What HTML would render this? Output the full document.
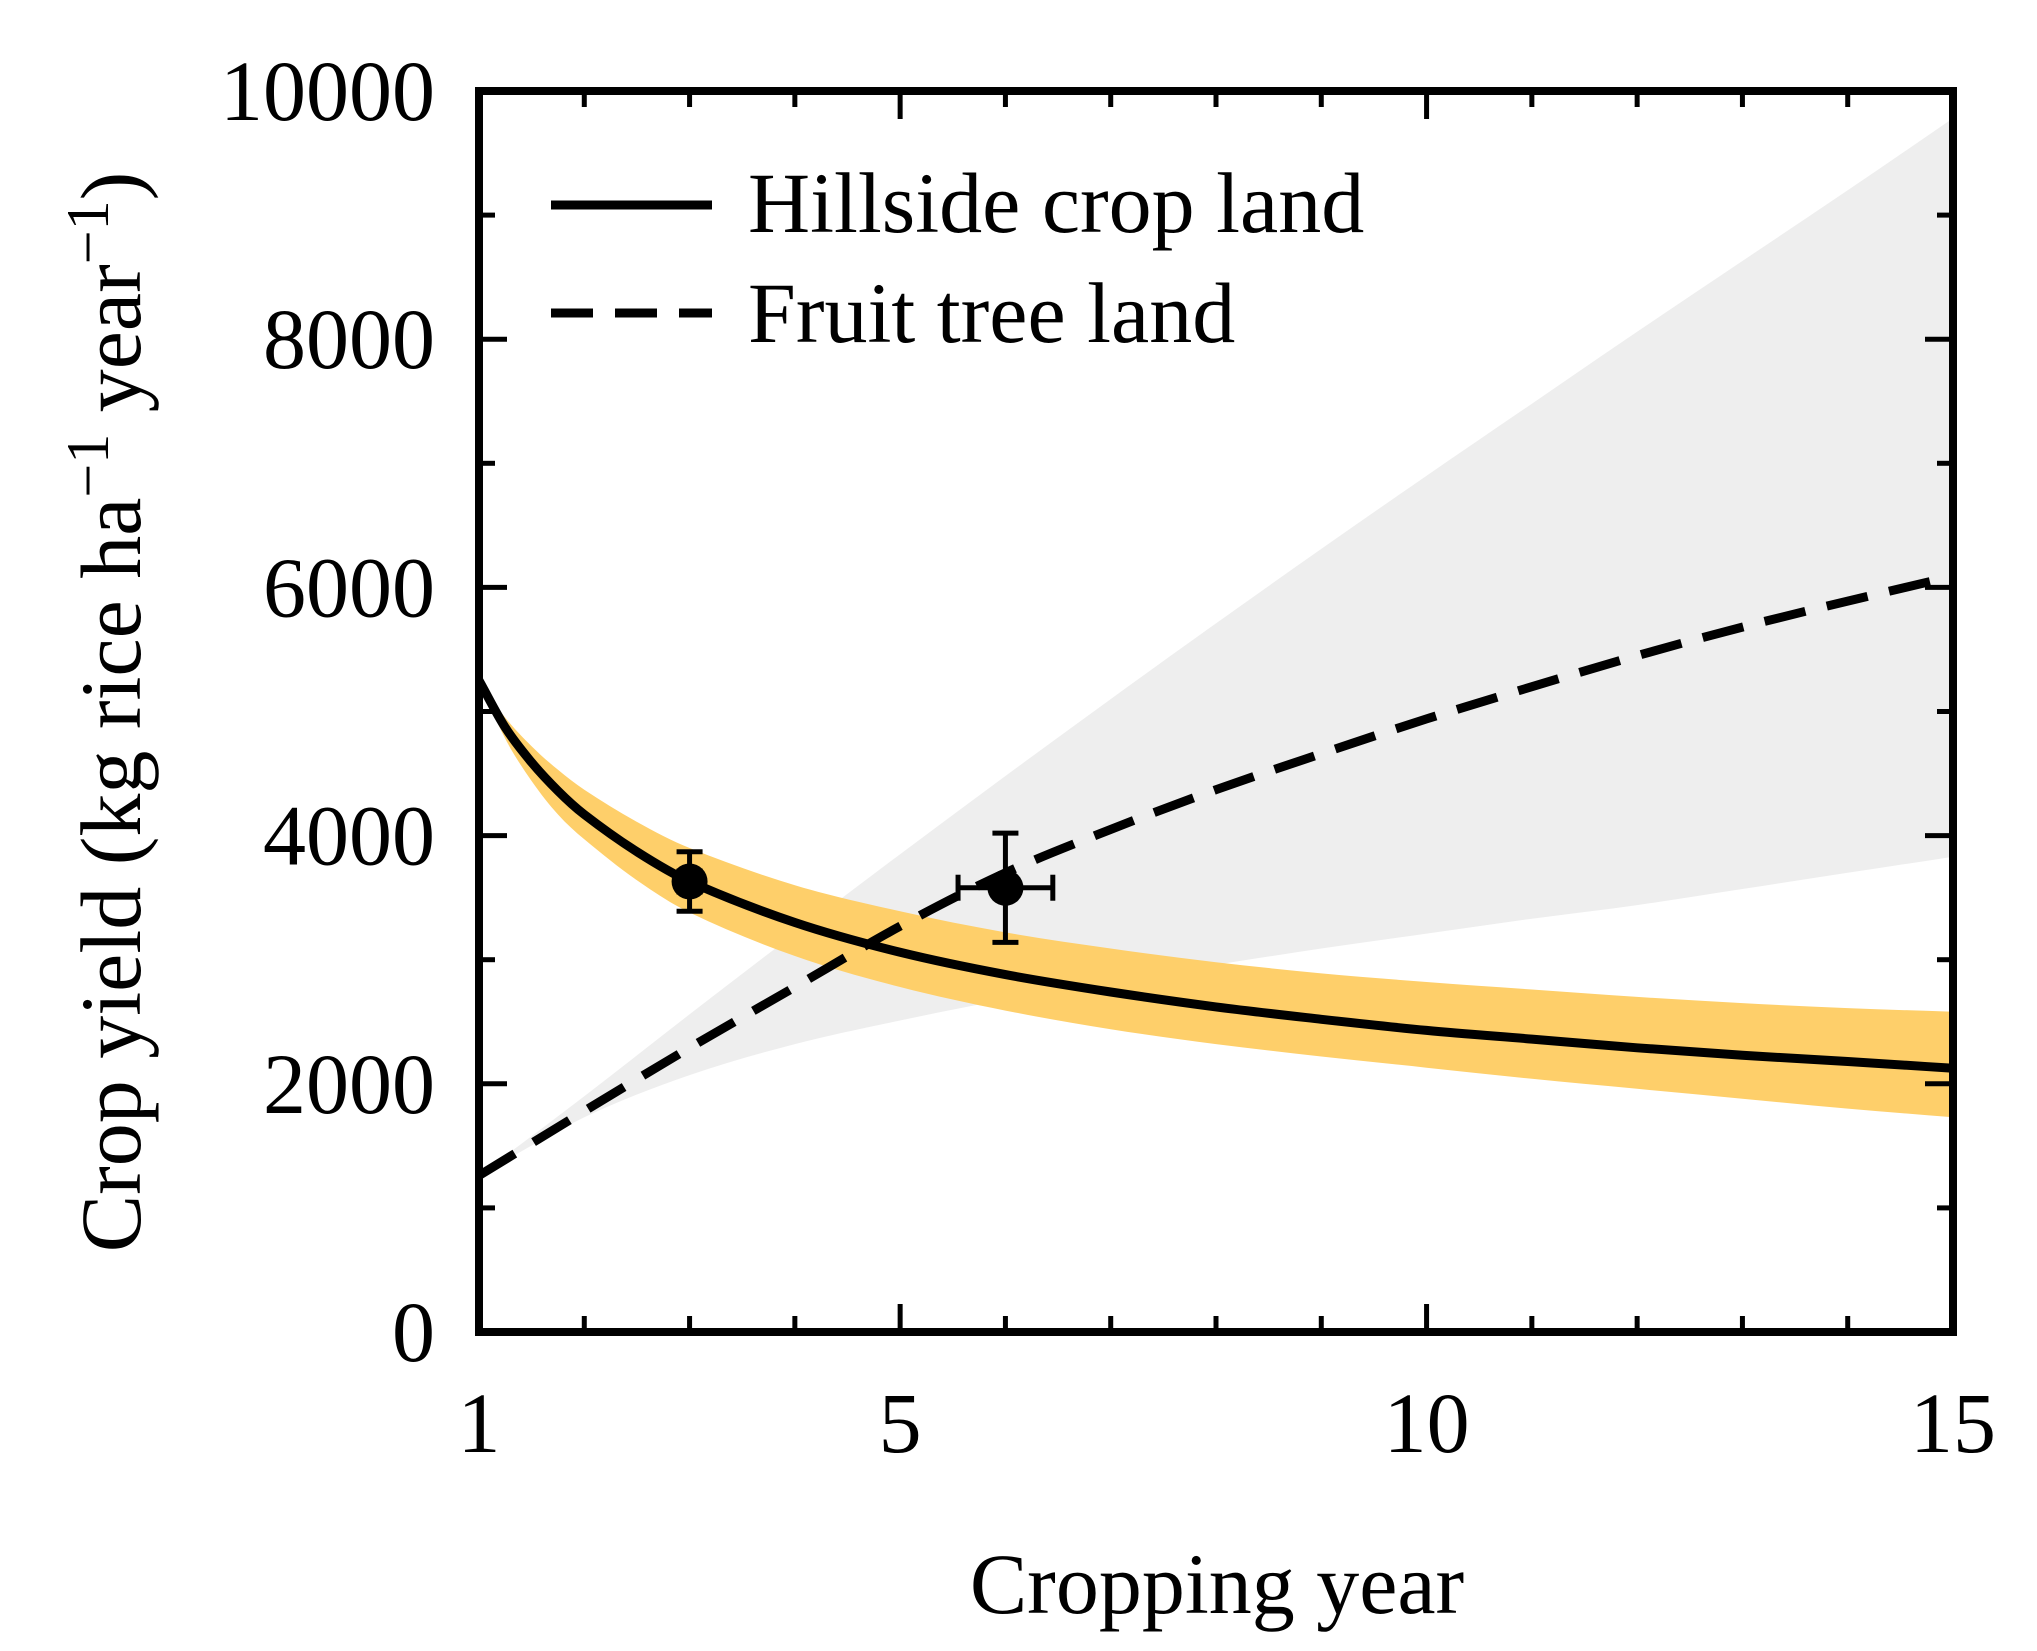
<!DOCTYPE html>
<html><head><meta charset="utf-8">
<style>
html,body{margin:0;padding:0;background:#fff;}
svg{display:block;}
text{font-family:"Liberation Serif",serif;fill:#000;}
</style></head>
<body>
<svg id="chart" width="2037" height="1651" viewBox="0 0 2037 1651" xmlns="http://www.w3.org/2000/svg">
<g id="bands"></g>
<g id="lines"></g>
<g id="points"></g>
<g id="axes"></g>
<g id="legend">
  <line x1="551" y1="205" x2="712" y2="205" stroke="#000" stroke-width="9"/>
  <text x="748" y="232" font-size="86">Hillside crop land</text>
  <line x1="551" y1="313" x2="712" y2="313" stroke="#000" stroke-width="9" stroke-dasharray="42 22"/>
  <text x="748" y="342" font-size="86">Fruit tree land</text>
</g>
<text x="1217" y="1613" font-size="86" text-anchor="middle">Cropping year</text>
<text transform="translate(140,712) rotate(-90)" font-size="86" text-anchor="middle">Crop yield (kg rice ha<tspan font-size="60" dy="-32">−1</tspan><tspan dy="32"> year</tspan><tspan font-size="60" dy="-32">−1</tspan><tspan dy="32">)</tspan></text>
</svg>
<script>
const years = [1,1.25,1.5,1.75,2,2.5,3,4,5,6,7,8,9,10,11,12,13,14,15];
const hillside = [5250,4870,4590,4360,4170,3870,3630,3300,3060,2880,2740,2620,2520,2430,2360,2290,2230,2180,2125];
const hillsideUpper = [5250,4950,4720,4530,4370,4110,3900,3600,3390,3220,3090,2980,2890,2820,2760,2700,2650,2610,2580];
const hillsideLower = [5250,4780,4440,4170,3970,3640,3380,3030,2780,2590,2440,2320,2220,2130,2040,1960,1880,1800,1730];
const fruitYears = [1,2,3,4,5,6,7,8,9,10,11,12,13,14,15];
const fruit = [1260,1780,2290,2780,3270,3700,4050,4370,4660,4940,5200,5450,5680,5890,6090];
const fruitUpper = [1260,1900,2560,3210,3850,4480,5100,5710,6310,6900,7480,8060,8630,9200,9780];
const fruitLower = [1260,1730,2070,2320,2510,2680,2830,2960,3090,3210,3330,3440,3570,3700,3830];
const obsX = [3,6];
const obsY = [3630,3580];
const obsYErr = [240,440];
const obsXErr = [0.1,0.45];
const xTicks = [1,2,3,4,5,6,7,8,9,10,11,12,13,14,15];
const xTickLabels = ["1","5","10","15"];
const xLabelValues = [1,5,10,15];
const yTickValues = [0,1000,2000,3000,4000,5000,6000,7000,8000,9000,10000];
const yTickLabels = ["0","2000","4000","6000","8000","10000"];
const yLabelValues = [0,2000,4000,6000,8000,10000];

const L=479,R=1953,T=91,B=1332;
const xMin=1,xMax=15,yMin=0,yMax=10000;
const sx=v=>L+(v-xMin)/(xMax-xMin)*(R-L);
const sy=v=>B-(v-yMin)/(yMax-yMin)*(B-T);
const NS="http://www.w3.org/2000/svg";
function mk(tag,attrs,parent){const e=document.createElementNS(NS,tag);for(const k in attrs)e.setAttribute(k,attrs[k]);parent.appendChild(e);return e;}
function smoothPath(xs,ys,move){
  const p=xs.map((x,i)=>[sx(x),sy(ys[i])]);
  let d=(move?"M":"L")+p[0][0].toFixed(1)+","+p[0][1].toFixed(1);
  for(let i=0;i<p.length-1;i++){
    const p0=p[Math.max(0,i-1)],p1=p[i],p2=p[i+1],p3=p[Math.min(p.length-1,i+2)];
    const h=p2[0]-p1[0];
    const t1=[(p2[0]-p0[0]),(p2[1]-p0[1])],t2=[(p3[0]-p1[0]),(p3[1]-p1[1])];
    const k1=t1[0]?h/t1[0]/3:0,k2=t2[0]?h/t2[0]/3:0;
    const c1=[p1[0]+t1[0]*k1,p1[1]+t1[1]*k1];
    const c2=[p2[0]-t2[0]*k2,p2[1]-t2[1]*k2];
    d+=`C${c1[0].toFixed(1)},${c1[1].toFixed(1)} ${c2[0].toFixed(1)},${c2[1].toFixed(1)} ${p2[0].toFixed(1)},${p2[1].toFixed(1)}`;
  }
  return d;
}
function bandPath(xs,up,lo){
  return smoothPath(xs,up,true)+smoothPath(xs.slice().reverse(),lo.slice().reverse(),false)+"Z";
}
const bands=document.getElementById('bands');
const gb=mk('path',{d:bandPath(fruitYears,fruitUpper,fruitLower),fill:'#eeeeee'},bands);


const ob=mk('path',{d:bandPath(years,hillsideUpper,hillsideLower),fill:'#fecf6a'},bands);



const lines=document.getElementById('lines');
const hl=mk('path',{d:smoothPath(years,hillside,true),fill:'none',stroke:'#000','stroke-width':9},lines);


const fl=mk('path',{d:smoothPath(fruitYears,fruit,true),fill:'none',stroke:'#000','stroke-width':9,'stroke-dasharray':'42 22'},lines);



const pts=document.getElementById('points');
obsX.forEach((x,i)=>{
  const g=mk('g',{},pts);
  
  
  const cx=sx(x),cy=sy(obsY[i]);
  const y1=sy(obsY[i]+obsYErr[i]),y2=sy(obsY[i]-obsYErr[i]);
  const x1=sx(x-obsXErr[i]),x2=sx(x+obsXErr[i]);
  const sw=5;
  mk('line',{x1:cx,y1:y1,x2:cx,y2:y2,stroke:'#000','stroke-width':sw},g);
  mk('line',{x1:cx-13,y1:y1,x2:cx+13,y2:y1,stroke:'#000','stroke-width':sw},g);
  mk('line',{x1:cx-13,y1:y2,x2:cx+13,y2:y2,stroke:'#000','stroke-width':sw},g);
  mk('line',{x1:x1,y1:cy,x2:x2,y2:cy,stroke:'#000','stroke-width':sw},g);
  mk('line',{x1:x1,y1:cy-13,x2:x1,y2:cy+13,stroke:'#000','stroke-width':sw},g);
  mk('line',{x1:x2,y1:cy-13,x2:x2,y2:cy+13,stroke:'#000','stroke-width':sw},g);
  mk('circle',{cx:cx,cy:cy,r:18,fill:'#000'},g);
});

const axes=document.getElementById('axes');
xTicks.forEach(v=>{
  const major=(v%5===0);const len=major?28:16;const x=sx(v);
  const t1=mk('line',{x1:x,y1:B,x2:x,y2:B-len,stroke:'#000','stroke-width':5},axes);
  
  
  const t2=mk('line',{x1:x,y1:T,x2:x,y2:T+len,stroke:'#000','stroke-width':5},axes);
  
  
});
yTickValues.forEach(v=>{
  const major=(v%2000===0);const len=major?28:16;const y=sy(v);
  const t1=mk('line',{x1:L,y1:y,x2:L+len,y2:y,stroke:'#000','stroke-width':5},axes);
  
  
  const t2=mk('line',{x1:R,y1:y,x2:R-len,y2:y,stroke:'#000','stroke-width':5},axes);
  
  
});
const frame=mk('rect',{x:L,y:T,width:R-L,height:B-T,fill:'none',stroke:'#000','stroke-width':8},axes);


xLabelValues.forEach((v,i)=>{
  const t=mk('text',{x:sx(v),y:1452,'font-size':86,'text-anchor':'middle'},axes);
  t.textContent=xTickLabels[i];
  
  
});
yLabelValues.forEach((v,i)=>{
  const t=mk('text',{x:435,y:sy(v)+29,'font-size':86,'text-anchor':'end'},axes);
  t.textContent=yTickLabels[i];
  
  
});
</script>
</body></html>
